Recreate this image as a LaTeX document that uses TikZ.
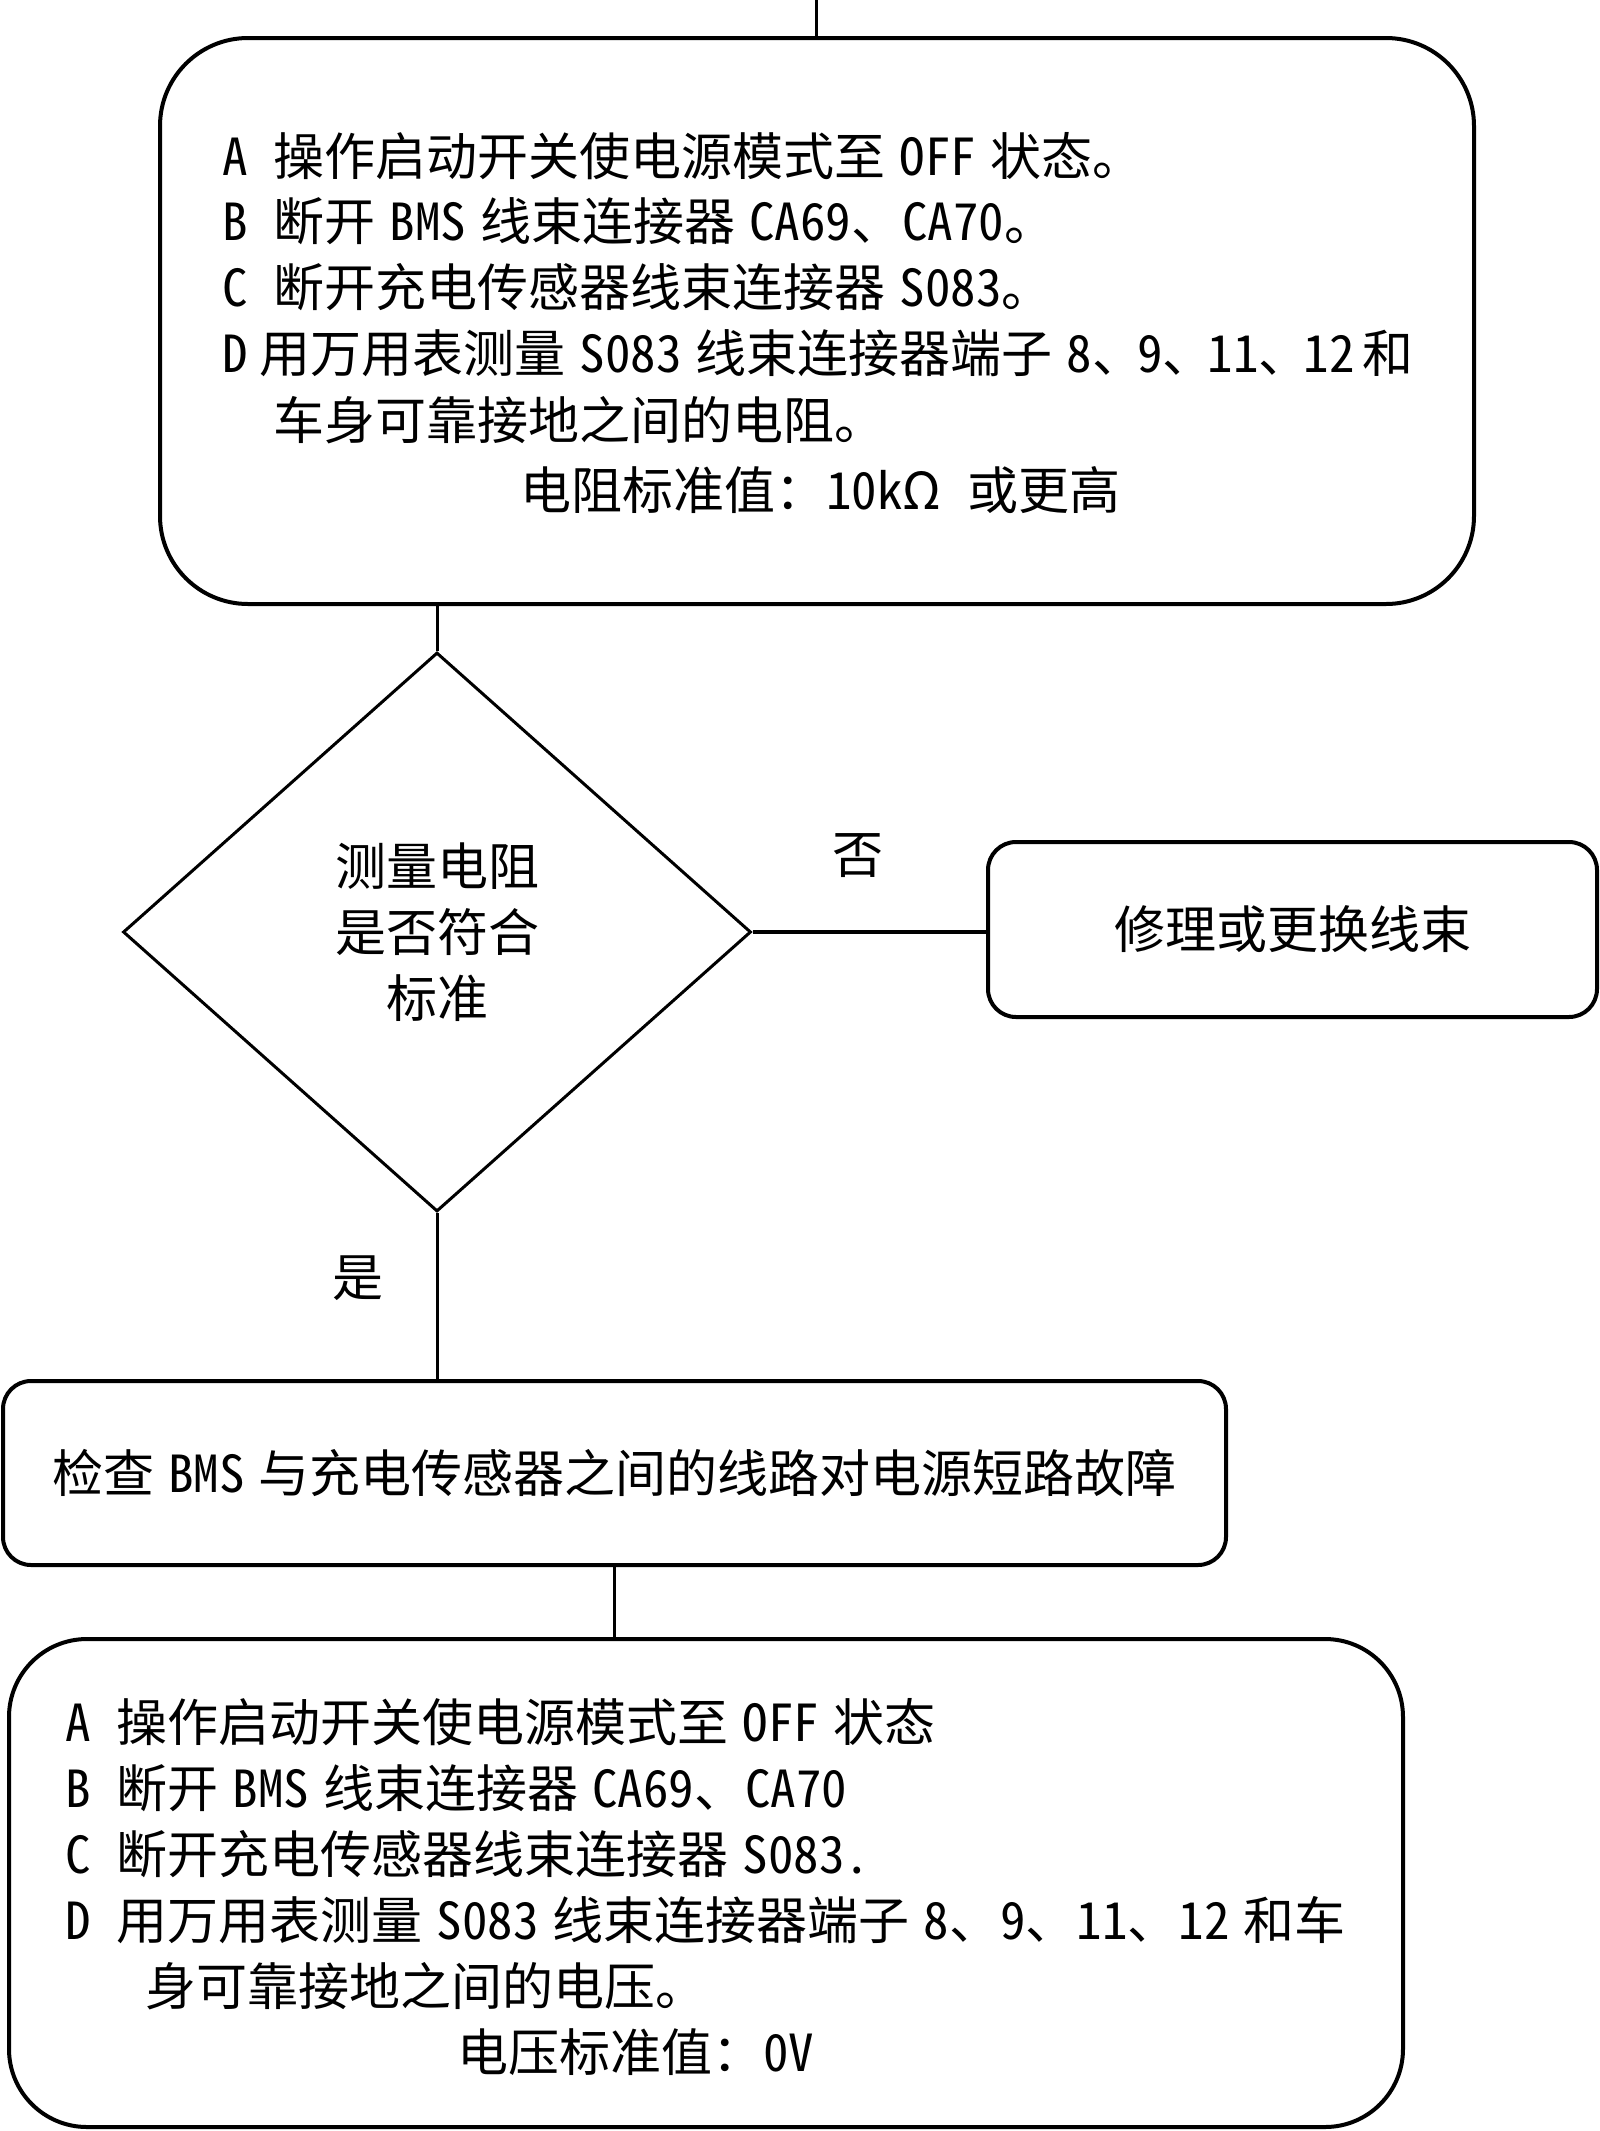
\documentclass[tikz,border=0pt]{standalone}
\usepackage{fontspec}
\setmainfont{Noto Sans CJK SC}[RawFeature=+hwid]
\usetikzlibrary{shapes.geometric}
\newcommand\gp{\hspace{14pt}}
\newcommand\dn{、\hspace{-6pt}}
\begin{document}
\begin{tikzpicture}[x=1pt,y=-1pt,
  box/.style={draw, line width=4pt, rectangle, inner sep=0pt, font=\fontsize{51}{66}\selectfont},
  txt/.style={anchor=west, inner sep=0pt, font=\fontsize{51}{66}\selectfont},
  lbl/.style={inner sep=0pt, font=\fontsize{51}{66}\selectfont},
  conn/.style={line width=3pt}]
\useasboundingbox (0,0) rectangle (1600,2131);
% boxes
\node[box, rounded corners=88pt, minimum width=1314pt, minimum height=566pt] (top) at (817,321) {};
\node[draw, diamond, line width=3pt, inner sep=0pt, minimum width=628pt, minimum height=559pt,
      align=center, font=\fontsize{51}{66}\selectfont] (dia) at (437,932) {测量电阻\\是否符合\\标准};
\node[box, rounded corners=28pt, minimum width=609pt, minimum height=175pt] (fix) at (1292.5,929.5) {修理或更换线束};
\node[box, rounded corners=28pt, minimum width=1223pt, minimum height=184pt] (mid) at (614.5,1473) {检查\gp BMS\gp 与充电传感器之间的线路对电源短路故障};
\node[box, rounded corners=78pt, minimum width=1394pt, minimum height=488pt] (bot) at (706,1883) {};
% top box text
\node[txt] (t1) at (222,156) {A\hspace{26pt}操作启动开关使电源模式至\gp OFF\gp 状态。};
\node[txt] (t2) at (222,221) {B\hspace{26pt}断开\gp BMS\gp 线束连接器\gp CA69、CA70。};
\node[txt] (t3) at (222,287) {C\hspace{26pt}断开充电传感器线束连接器\gp S083。};
\node[txt] (t4) at (222,353) {D\hspace{12pt}用万用表测量\gp S083\gp 线束连接器端子\gp 8\dn 9\dn 11\dn 12\hspace{8pt}和};
\node[txt] (t5) at (273,420) {车身可靠接地之间的电阻。};
\node[txt] (t6) at (520,490) {电阻标准值：10kΩ\hspace{26pt}或更高};
% bottom box text
\node[txt] (b1) at (65,1722) {A\hspace{26pt}操作启动开关使电源模式至\gp OFF\gp 状态};
\node[txt] (b2) at (65,1788) {B\hspace{26pt}断开\gp BMS\gp 线束连接器\gp CA69、CA70};
\node[txt] (b3) at (65,1854) {C\hspace{26pt}断开充电传感器线束连接器\gp S083.};
\node[txt] (b4) at (65,1920) {D\hspace{26pt}用万用表测量\gp S083\gp 线束连接器端子\gp 8、9、11、12\gp 和车};
\node[txt] (b5) at (145,1986) {身可靠接地之间的电压。};
\node[txt] (b6) at (457,2052) {电压标准值：0V};
% labels
\node[lbl] (no) at (858,856) {否};
\node[lbl] (yes) at (358,1278) {是};
% connectors
\coordinate (entry) at (816,0);
\draw[conn] (entry) -- (entry |- top.north);
\draw[conn] (dia.north |- top.south) -- (dia.north);
\draw[line width=4.5pt] (dia.east) -- (dia.east -| fix.west);
\draw[conn] (dia.south) -- (dia.south |- mid.north);
\draw[conn] (mid.south) -- (mid.south |- bot.north);
\end{tikzpicture}
\end{document}
